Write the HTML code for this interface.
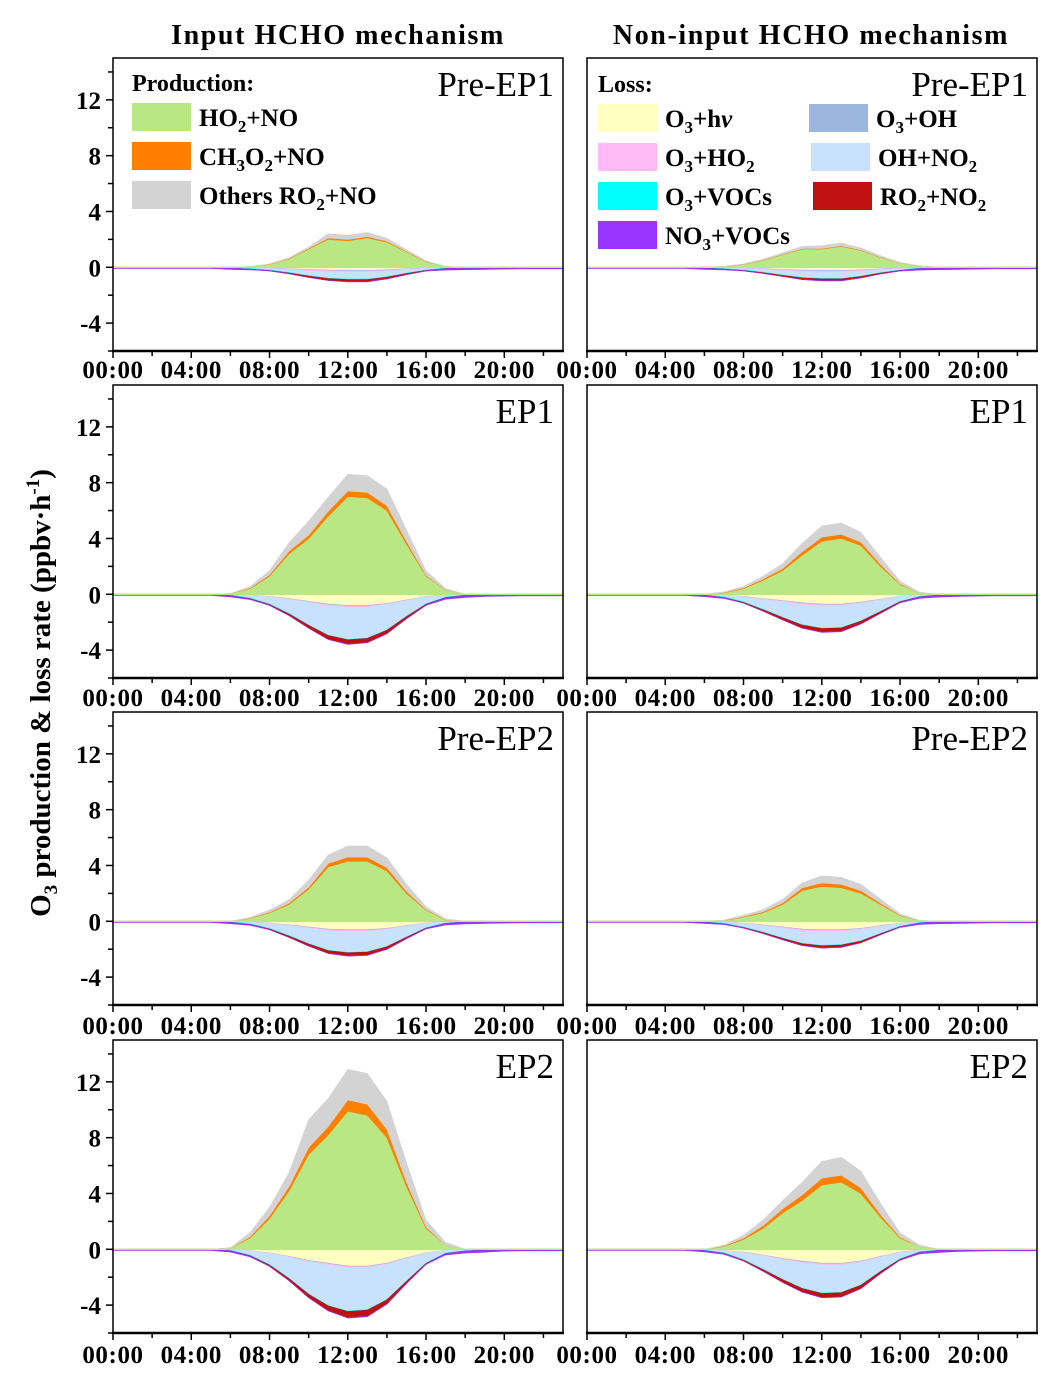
<!DOCTYPE html>
<html><head><meta charset="utf-8">
<style>
body{margin:0;background:#fff;width:1059px;height:1387px;overflow:hidden;font-family:"Liberation Serif",serif;}
svg{display:block}
</style></head>
<body>
<svg id="chart" width="1059" height="1387" font-family="'Liberation Serif', serif" xmlns="http://www.w3.org/2000/svg"></svg>
<script>
const hours=[0,1,2,3,4,5,6,7,8,9,10,11,12,13,14,15,16,17,18,19,20,21,22,23];
const xTickLabels=["00:00","04:00","08:00","12:00","16:00","20:00"];
const yTickLabels=[-4,0,4,8,12];
const panelNames=["Pre-EP1","EP1","Pre-EP2","EP2"];
// shared small series
const o3ohS=[0,0,0,0,0,0,0,0.01,0.02,0.03,0.04,0.05,0.05,0.05,0.04,0.03,0.02,0.01,0,0,0,0,0,0];
const o3ho2S=[0,0,0,0,0,0,0,0.01,0.02,0.04,0.06,0.08,0.08,0.08,0.06,0.04,0.02,0.01,0,0,0,0,0,0];
const o3vocsS=[0.01,0.01,0.01,0.01,0.01,0.01,0.03,0.04,0.04,0.04,0.03,0.03,0.03,0.03,0.03,0.03,0.03,0.03,0.02,0.01,0.01,0.01,0.01,0.01];
const no3vocsS=[0.08,0.08,0.08,0.08,0.08,0.08,0.1,0.05,0,0,0,0,0.02,0.02,0,0,0.02,0.1,0.15,0.15,0.12,0.1,0.1,0.1];
// Left column (Input HCHO)
const L_green=[
[0,0,0,0,0,0,0,0.05,0.2,0.6,1.3,2.0,1.9,2.1,1.8,1.1,0.4,0.05,0,0,0,0,0,0],
[0,0,0,0,0,0,0.05,0.4,1.3,2.9,4.0,5.6,7.0,6.9,6.0,3.6,1.3,0.3,0,0,0,0,0,0],
[0,0,0,0,0,0,0,0.2,0.6,1.2,2.3,3.9,4.3,4.3,3.6,2.0,0.8,0.1,0,0,0,0,0,0],
[0,0,0,0,0,0,0.1,0.8,2.2,4.2,6.8,8.2,9.9,9.6,8.0,4.5,1.5,0.3,0,0,0,0,0,0]];
const L_orange=[
[0,0,0,0,0,0,0,0,0.02,0.04,0.06,0.1,0.1,0.1,0.08,0.05,0.02,0,0,0,0,0,0,0],
[0,0,0,0,0,0,0,0.05,0.1,0.2,0.25,0.35,0.4,0.4,0.35,0.2,0.08,0.02,0,0,0,0,0,0],
[0,0,0,0,0,0,0,0.03,0.06,0.1,0.15,0.25,0.3,0.3,0.25,0.15,0.05,0.02,0,0,0,0,0,0],
[0,0,0,0,0,0,0,0.1,0.2,0.3,0.5,0.6,0.8,0.8,0.6,0.3,0.1,0,0,0,0,0,0,0]];
const L_grey=[
[0,0,0,0,0,0,0,0,0.03,0.05,0.1,0.3,0.3,0.3,0.2,0.1,0.05,0,0,0,0,0,0,0],
[0,0,0,0,0,0,0,0.1,0.3,0.6,1.0,1.0,1.2,1.2,1.2,0.8,0.3,0.1,0,0,0,0,0,0],
[0,0,0,0,0,0,0,0.05,0.15,0.25,0.5,0.6,0.8,0.8,0.7,0.5,0.2,0.05,0,0,0,0,0,0],
[0,0,0,0,0,0,0,0.3,0.6,1.0,2.0,2.0,2.2,2.2,2.0,1.4,0.5,0.2,0,0,0,0,0,0]];
const L_o3hv=[
[0,0,0,0,0,0,0,0.02,0.05,0.1,0.15,0.2,0.22,0.22,0.18,0.1,0.05,0.01,0,0,0,0,0,0],
[0,0,0,0,0,0,0.01,0.05,0.15,0.3,0.5,0.7,0.8,0.8,0.65,0.4,0.15,0.03,0,0,0,0,0,0],
[0,0,0,0,0,0,0.01,0.04,0.12,0.25,0.4,0.55,0.6,0.6,0.5,0.3,0.12,0.02,0,0,0,0,0,0],
[0,0,0,0,0,0,0.02,0.1,0.25,0.5,0.8,1.0,1.2,1.2,1.0,0.6,0.25,0.05,0,0,0,0,0,0]];
const L_ohno2=[
[0,0,0,0,0,0,0.02,0.05,0.1,0.2,0.35,0.45,0.5,0.5,0.4,0.25,0.1,0.03,0,0,0,0,0,0],
[0,0,0,0,0,0,0.05,0.2,0.5,1.0,1.6,2.1,2.3,2.2,1.8,1.1,0.5,0.15,0.05,0,0,0,0,0],
[0,0,0,0,0,0,0.03,0.12,0.35,0.7,1.1,1.4,1.5,1.45,1.2,0.75,0.3,0.08,0.02,0,0,0,0,0],
[0,0,0,0,0,0,0.05,0.3,0.8,1.5,2.3,2.9,3.1,3.0,2.5,1.6,0.7,0.2,0.1,0.05,0,0,0,0]];
const L_ro2no2=[
[0,0,0,0,0,0,0,0.01,0.03,0.06,0.1,0.14,0.15,0.15,0.12,0.08,0.03,0.01,0,0,0,0,0,0],
[0,0,0,0,0,0,0,0.02,0.06,0.12,0.2,0.28,0.32,0.3,0.25,0.15,0.06,0.02,0,0,0,0,0,0],
[0,0,0,0,0,0,0,0.02,0.05,0.1,0.15,0.2,0.22,0.22,0.18,0.1,0.04,0.01,0,0,0,0,0,0],
[0,0,0,0,0,0,0,0.03,0.1,0.15,0.25,0.35,0.45,0.45,0.3,0.15,0.05,0,0,0,0,0,0,0]];
// Right column (Non-input HCHO)
const R_green=[
[0,0,0,0,0,0,0,0.05,0.2,0.5,0.9,1.3,1.3,1.5,1.2,0.7,0.3,0.1,0,0,0,0,0,0],
[0,0,0,0,0,0,0,0.1,0.4,1.0,1.7,2.8,3.8,4.0,3.5,2.0,0.7,0.1,0,0,0,0,0,0],
[0,0,0,0,0,0,0,0.05,0.3,0.6,1.2,2.2,2.5,2.4,2.0,1.2,0.4,0.05,0,0,0,0,0,0],
[0,0,0,0,0,0,0,0.2,0.7,1.5,2.6,3.5,4.6,4.8,4.0,2.3,0.8,0.2,0,0,0,0,0,0]];
const R_orange=[
[0,0,0,0,0,0,0,0.01,0.02,0.03,0.04,0.05,0.05,0.05,0.04,0.03,0.01,0,0,0,0,0,0,0],
[0,0,0,0,0,0,0,0.03,0.06,0.1,0.15,0.25,0.3,0.3,0.25,0.15,0.05,0,0,0,0,0,0,0],
[0,0,0,0,0,0,0,0.02,0.05,0.08,0.12,0.2,0.25,0.25,0.2,0.1,0.04,0,0,0,0,0,0,0],
[0,0,0,0,0,0,0,0.05,0.1,0.2,0.3,0.4,0.5,0.5,0.4,0.2,0.08,0,0,0,0,0,0,0]];
const R_grey=[
[0,0,0,0,0,0,0,0,0.02,0.05,0.1,0.15,0.2,0.2,0.15,0.1,0.05,0,0,0,0,0,0,0],
[0,0,0,0,0,0,0,0.05,0.1,0.2,0.35,0.6,0.8,0.8,0.7,0.5,0.2,0.05,0,0,0,0,0,0],
[0,0,0,0,0,0,0,0.02,0.08,0.15,0.25,0.35,0.5,0.5,0.45,0.3,0.1,0.02,0,0,0,0,0,0],
[0,0,0,0,0,0,0,0.05,0.2,0.4,0.6,0.9,1.2,1.3,1.2,0.8,0.3,0.1,0,0,0,0,0,0]];
const R_o3hv=[
[0,0,0,0,0,0,0,0.02,0.05,0.1,0.15,0.2,0.22,0.22,0.18,0.1,0.05,0.01,0,0,0,0,0,0],
[0,0,0,0,0,0,0.01,0.05,0.15,0.3,0.45,0.6,0.7,0.7,0.55,0.35,0.12,0.03,0,0,0,0,0,0],
[0,0,0,0,0,0,0.01,0.04,0.12,0.25,0.4,0.55,0.6,0.6,0.5,0.3,0.12,0.02,0,0,0,0,0,0],
[0,0,0,0,0,0,0.02,0.08,0.2,0.4,0.65,0.85,1.0,1.0,0.85,0.5,0.2,0.04,0,0,0,0,0,0]];
const R_ohno2=[
[0,0,0,0,0,0,0.02,0.05,0.1,0.18,0.3,0.4,0.45,0.45,0.35,0.22,0.1,0.03,0,0,0,0,0,0],
[0,0,0,0,0,0,0.03,0.12,0.35,0.7,1.1,1.45,1.6,1.55,1.25,0.8,0.35,0.1,0.03,0,0,0,0,0],
[0,0,0,0,0,0,0.02,0.08,0.25,0.45,0.7,0.9,1.0,0.95,0.8,0.5,0.2,0.05,0,0,0,0,0,0],
[0,0,0,0,0,0,0.04,0.15,0.5,0.95,1.4,1.8,2.0,1.95,1.6,1.0,0.45,0.12,0.05,0,0,0,0,0]];
const R_ro2no2=[
[0,0,0,0,0,0,0,0.01,0.03,0.05,0.08,0.12,0.13,0.13,0.1,0.06,0.03,0.01,0,0,0,0,0,0],
[0,0,0,0,0,0,0,0.02,0.05,0.1,0.16,0.22,0.25,0.25,0.2,0.12,0.05,0.01,0,0,0,0,0,0],
[0,0,0,0,0,0,0,0.01,0.04,0.07,0.1,0.13,0.15,0.15,0.12,0.07,0.03,0,0,0,0,0,0,0],
[0,0,0,0,0,0,0,0.02,0.06,0.12,0.2,0.26,0.3,0.3,0.24,0.14,0.05,0.01,0,0,0,0,0,0]];

const NS="http://www.w3.org/2000/svg";
const svg=document.getElementById('chart');
function mk(tag,attrs,parent){const e=document.createElementNS(NS,tag);for(const k in attrs)e.setAttribute(k,attrs[k]);(parent||svg).appendChild(e);return e;}
const colX=[113,587], rowY=[58,385,712,1040], PW=450, PH=293, YMIN=-6, YMAX=15, XMAX=23;
const xLabelY=[378,706,1034,1363];
const C={green:"#b9e783",orange:"#ff8000",grey:"#d3d3d3",o3hv:"#ffffbf",o3oh:"#9bb7df",o3ho2:"#ffb9f5",ohno2:"#c8e1fc",o3vocs:"#00ffff",ro2no2:"#c01010",no3vocs:"#9933ff"};

function drawPanel(col,row){
  const x0=colX[col], y0=rowY[row];
  const sx=h=>x0+h/XMAX*PW;
  const sy=v=>y0+(YMAX-v)/(YMAX-YMIN)*PH;
  const g=mk('g',{});
  
  
  const cp='clip'+col+row;
  const cl=mk('clipPath',{id:cp},g);mk('rect',{x:x0,y:y0,width:PW,height:PH},cl);
  const area=mk('g',{'clip-path':'url(#'+cp+')'},g);
  const pos=col?[[R_green[row],'green','ho2-no'],[R_orange[row],'orange','ch3o2-no'],[R_grey[row],'grey','others-ro2-no']]
               :[[L_green[row],'green','ho2-no'],[L_orange[row],'orange','ch3o2-no'],[L_grey[row],'grey','others-ro2-no']];
  const neg=col?[[R_o3hv[row],'o3hv','o3-hv'],[o3ohS,'o3oh','o3-oh'],[o3ho2S,'o3ho2','o3-ho2'],[R_ohno2[row],'ohno2','oh-no2'],[o3vocsS,'o3vocs','o3-vocs'],[R_ro2no2[row],'ro2no2','ro2-no2'],[no3vocsS,'no3vocs','no3-vocs']]
               :[[L_o3hv[row],'o3hv','o3-hv'],[o3ohS,'o3oh','o3-oh'],[o3ho2S,'o3ho2','o3-ho2'],[L_ohno2[row],'ohno2','oh-no2'],[o3vocsS,'o3vocs','o3-vocs'],[L_ro2no2[row],'ro2no2','ro2-no2'],[no3vocsS,'no3vocs','no3-vocs']];
  function stack(list,sign){
    let base=hours.map(()=>0);
    list.forEach(([vals,c,name])=>{
      const top=base.map((b,i)=>b+sign*vals[i]);
      let d='M'+hours.map((h,i)=>sx(h).toFixed(1)+','+sy(top[i]).toFixed(1)).join('L');
      d+='L'+hours.slice().reverse().map((h,j)=>{const i=hours.length-1-j;return sx(h).toFixed(1)+','+sy(base[i]).toFixed(1);}).join('L')+'Z';
      const p=mk('path',{d:d,fill:C[c],stroke:C[c],'stroke-width':0.6},area);
      
      
      base=top;
    });
  }
  stack(pos,1);stack(neg,-1);
  mk('line',{x1:x0,x2:x0+PW,y1:sy(0),y2:sy(0),stroke:C.green,'stroke-width':1.5},area);
  const fr=mk('rect',{x:x0,y:y0,width:PW,height:PH,fill:'none',stroke:'#000','stroke-width':1.5},g);
  
  mk('line',{x1:x0-1,x2:x0+PW+1,y1:y0+PH,y2:y0+PH,stroke:'#000','stroke-width':2.5},g);
  for(let h=0;h<=22;h+=2){mk('line',{x1:sx(h),x2:sx(h),y1:y0+PH,y2:y0+PH+(h%4==0?7:5),stroke:'#000','stroke-width':1.5},g);}
  xTickLabels.forEach((lab,i)=>{const t=mk('text',{x:sx(i*4),y:xLabelY[row],'text-anchor':'middle','font-size':25,'font-weight':'bold','letter-spacing':'0.6'},g);t.textContent=lab;
    });
  if(col==0){
    for(let v=-6;v<=14;v+=2){mk('line',{x1:x0-(v%4==0?7:5),x2:x0,y1:sy(v),y2:sy(v),stroke:'#000','stroke-width':1.5},g);}
    yTickLabels.forEach(v=>{const t=mk('text',{x:x0-12,y:sy(v)+9,'text-anchor':'end','font-size':25,'font-weight':'bold'},g);t.textContent=String(v);
      });
  }
  const pl=mk('text',{x:x0+PW-9,y:y0+38,'text-anchor':'end','font-size':35},g);pl.textContent=panelNames[row];
  
}
for(let c=0;c<2;c++)for(let r=0;r<4;r++)drawPanel(c,r);

function txt(x,y,html,attrs,name){const t=mk('text',Object.assign({x:x,y:y},attrs));t.innerHTML=html;return t;}
txt(338,44,'Input HCHO mechanism',{'text-anchor':'middle','font-size':28,'font-weight':'bold','letter-spacing':'1.6'},'left-column-title');
txt(811,44,'Non-input HCHO mechanism',{'text-anchor':'middle','font-size':28,'font-weight':'bold','letter-spacing':'1.6'},'right-column-title');
txt(0,0,'O<tspan font-size="19" dy="7">3</tspan><tspan dy="-7"> production &amp; loss rate (ppbv·h</tspan><tspan font-size="19" dy="-11">-1</tspan><tspan dy="11">)</tspan>',{'text-anchor':'middle','font-size':29,'font-weight':'bold',transform:'translate(50,693) rotate(-90)'},'y-axis-title');

// legends
const sub=s=>'<tspan font-size="17" dy="6">'+s+'</tspan><tspan dy="-6">';
function legItem(x,y,color,label,name){
  const g=mk('g',{});
  mk('rect',{x:x,y:y,width:59,height:28,fill:color},g);
  const t=mk('text',{x:x+67,y:y+23,'font-size':25,'font-weight':'bold'},g);t.innerHTML=label;
}
txt(132,91,'Production:',{'font-size':24,'font-weight':'bold'},'production-legend-title');
legItem(132,103,C.green,'HO'+sub('2')+'+NO</tspan>','ho2-no');
legItem(132,142,C.orange,'CH'+sub('3')+'O</tspan>'+sub('2')+'+NO</tspan>','ch3o2-no');
legItem(132,181,C.grey,'Others RO'+sub('2')+'+NO</tspan>','others-ro2-no');
txt(598,92,'Loss:',{'font-size':24,'font-weight':'bold'},'loss-legend-title');
legItem(598,104,C.o3hv,'O'+sub('3')+'+h<tspan font-style="italic">v</tspan></tspan>','o3-hv');
legItem(598,143,C.o3ho2,'O'+sub('3')+'+HO</tspan>'+sub('2')+'</tspan>','o3-ho2');
legItem(598,182,C.o3vocs,'O'+sub('3')+'+VOCs</tspan>','o3-vocs');
legItem(598,221,C.no3vocs,'NO'+sub('3')+'+VOCs</tspan>','no3-vocs');
legItem(809,104,C.o3oh,'O'+sub('3')+'+OH</tspan>','o3-oh');
legItem(811,143,C.ohno2,'OH+NO'+sub('2')+'</tspan>','oh-no2');
legItem(813,182,C.ro2no2,'RO'+sub('2')+'+NO</tspan>'+sub('2')+'</tspan>','ro2-no2');
</script>
</body></html>
